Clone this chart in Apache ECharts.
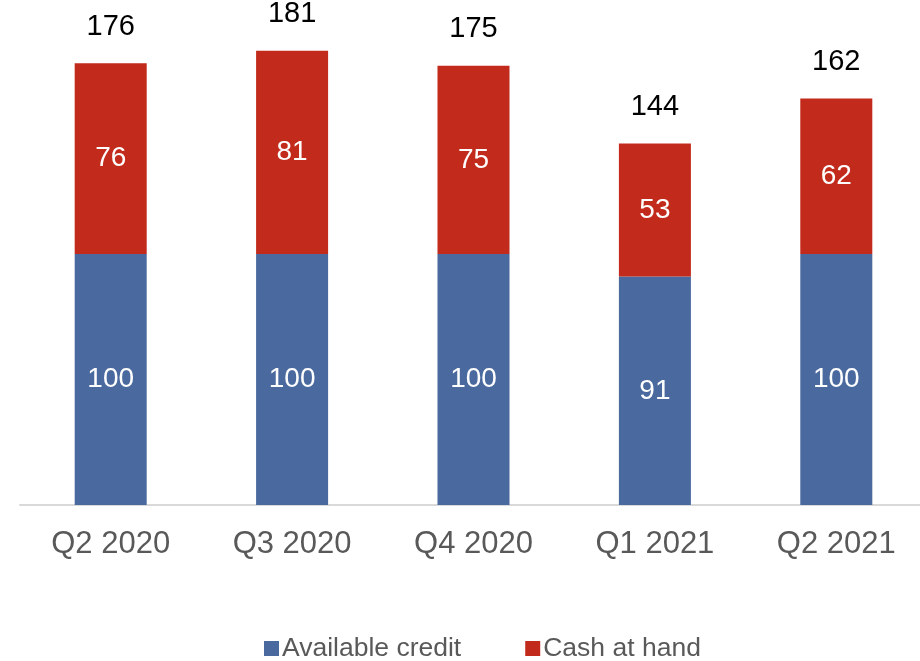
<!DOCTYPE html>
<html>
<head>
<meta charset="utf-8">
<script src="https://cdn.jsdelivr.net/npm/echarts@6/dist/echarts.min.js"></script>
<style>
  html, body { margin: 0; padding: 0; background: #ffffff; }
  #chart { width: 920px; height: 661px; }
</style>
</head>
<body>
<div id="chart"></div>
<script>
// Quarterly liquidity: available credit plus cash at hand
const quarters = ['Q2 2020', 'Q3 2020', 'Q4 2020', 'Q1 2021', 'Q2 2021'];
const availableCredit = [100, 100, 100, 91, 100];
const cashAtHand = [76, 81, 75, 53, 62];
const totals = [176, 181, 175, 144, 162];

const FONT = '"Liberation Sans", Arial, sans-serif';
const BLUE = '#4A699E';
const RED = '#C22A1C';

const chart = echarts.init(document.getElementById('chart'), null, { renderer: 'canvas' });

chart.setOption({
  animation: false,
  backgroundColor: '#ffffff',
  grid: {
    left: 20, width: 907, top: 3, height: 502,
    containLabel: false,
    outerBoundsMode: 'none'
  },
  legend: {
    bottom: -6,
    left: 259,
    itemWidth: 15,
    itemHeight: 15,
    itemGap: 64,
    icon: 'rect',
    textStyle: { fontFamily: FONT, fontSize: 26.5, color: '#595959', padding: [0, 0, 0, -2] },
    data: ['Available credit', 'Cash at hand']
  },
  xAxis: {
    type: 'category',
    data: quarters,
    axisLine: { show: true, lineStyle: { color: '#D9D9D9', width: 2 } },
    axisTick: { show: false },
    axisLabel: { fontFamily: FONT, fontSize: 31, color: '#595959', margin: 24 }
  },
  yAxis: {
    type: 'value',
    min: 0,
    max: 200,
    show: false,
    splitLine: { show: false }
  },
  series: [
    {
      name: 'Available credit',
      type: 'bar',
      stack: 'total',
      barWidth: '39.7%',
      data: availableCredit,
      itemStyle: { color: BLUE },
      label: {
        show: true,
        position: 'inside',
        fontFamily: FONT,
        fontSize: 28,
        color: '#ffffff'
      }
    },
    {
      name: 'Cash at hand',
      type: 'bar',
      stack: 'total',
      barWidth: '39.7%',
      data: cashAtHand,
      itemStyle: { color: RED },
      label: {
        show: true,
        position: 'inside',
        fontFamily: FONT,
        fontSize: 28,
        color: '#ffffff'
      }
    },
    {
      // invisible carrier for the total above each stacked bar
      name: 'Total',
      type: 'bar',
      stack: 'total',
      barWidth: '39.7%',
      data: totals.map(() => 0),
      itemStyle: { color: 'transparent' },
      silent: true,
      label: {
        show: true,
        position: 'top',
        distance: 22,
        fontFamily: FONT,
        fontSize: 29,
        color: '#000000',
        formatter: (p) => String(totals[p.dataIndex])
      }
    }
  ]
});
</script>
</body>
</html>
